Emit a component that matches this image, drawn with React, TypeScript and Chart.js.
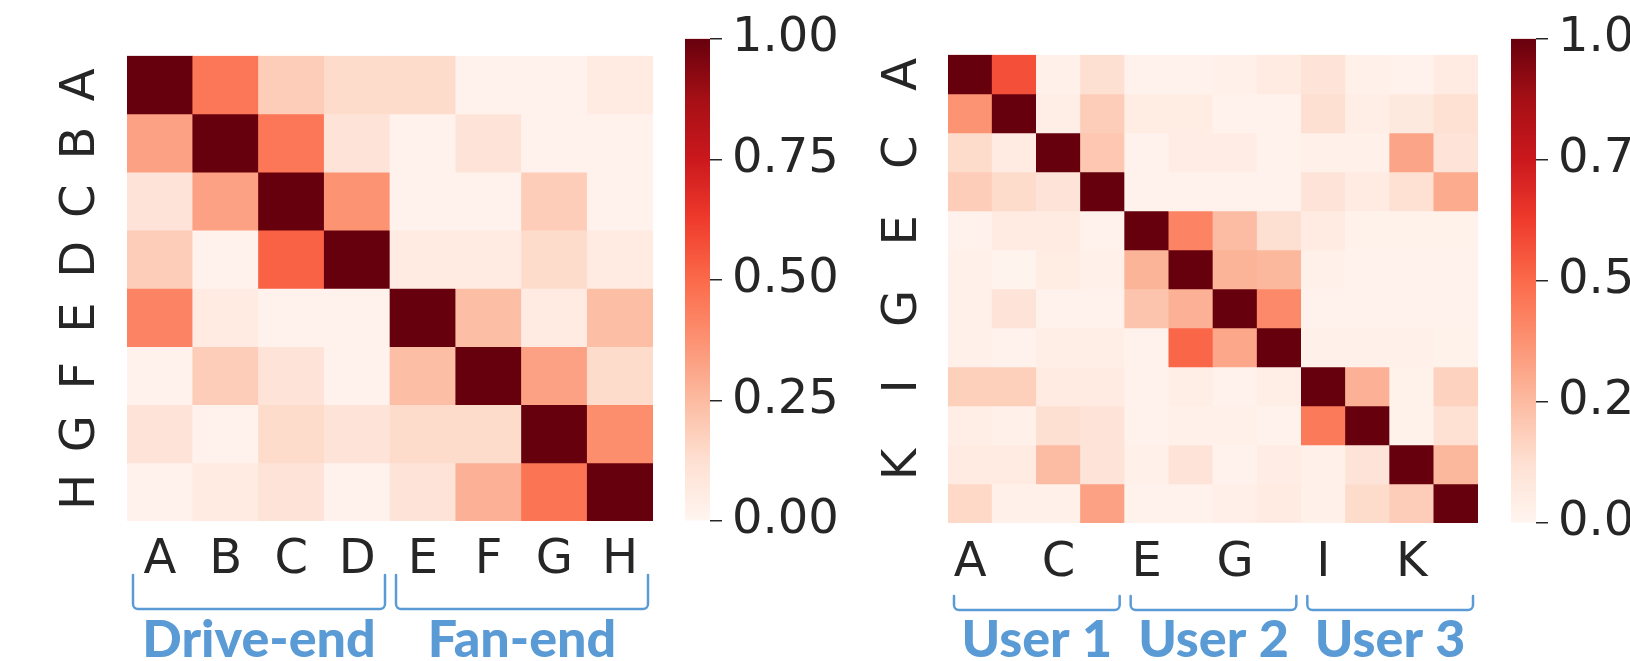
import React, { useEffect, useRef } from 'react';
import { Chart, registerables } from 'chart.js';

Chart.register(...registerables);

// ---------------- data ----------------
const bearingLabels = ['A', 'B', 'C', 'D', 'E', 'F', 'G', 'H'];
const bearingGroups = ['Drive-end', 'Fan-end'];
const bearingGroupStart = [0, 4];
const bearingGroupEnd = [3, 7];
const bearingMatrix = [
  [1.0, 0.46, 0.19, 0.14, 0.14, 0.015, 0.015, 0.06],
  [0.33, 1.0, 0.46, 0.10, 0.015, 0.10, 0.015, 0.015],
  [0.10, 0.33, 1.0, 0.37, 0.015, 0.015, 0.19, 0.015],
  [0.19, 0.015, 0.52, 1.0, 0.06, 0.06, 0.14, 0.06],
  [0.42, 0.06, 0.015, 0.015, 1.0, 0.24, 0.06, 0.24],
  [0.015, 0.19, 0.10, 0.015, 0.24, 1.0, 0.33, 0.14],
  [0.10, 0.015, 0.14, 0.10, 0.14, 0.14, 1.0, 0.39],
  [0.015, 0.06, 0.10, 0.015, 0.10, 0.28, 0.47, 1.0],
];

const userLabels = ['A', 'B', 'C', 'D', 'E', 'F', 'G', 'H', 'I', 'J', 'K', 'L'];
const userGroups = ['User 1', 'User 2', 'User 3'];
const userGroupStart = [0, 4, 8];
const userGroupEnd = [3, 7, 11];
const userMatrix = [
  [1.0, 0.57, 0.03, 0.125, 0.015, 0.015, 0.03, 0.06, 0.10, 0.03, 0.015, 0.06],
  [0.37, 1.0, 0.04, 0.19, 0.05, 0.05, 0.015, 0.015, 0.125, 0.04, 0.07, 0.12],
  [0.14, 0.06, 1.0, 0.21, 0.015, 0.045, 0.045, 0.015, 0.03, 0.03, 0.32, 0.10],
  [0.19, 0.14, 0.10, 1.0, 0.015, 0.015, 0.015, 0.015, 0.10, 0.06, 0.12, 0.30],
  [0.015, 0.06, 0.06, 0.015, 1.0, 0.42, 0.245, 0.125, 0.06, 0.02, 0.02, 0.02],
  [0.03, 0.01, 0.055, 0.03, 0.27, 1.0, 0.27, 0.26, 0.03, 0.015, 0.015, 0.015],
  [0.03, 0.10, 0.015, 0.015, 0.22, 0.28, 1.0, 0.40, 0.015, 0.015, 0.015, 0.015],
  [0.03, 0.015, 0.04, 0.04, 0.015, 0.51, 0.31, 1.0, 0.03, 0.03, 0.03, 0.02],
  [0.18, 0.18, 0.06, 0.06, 0.015, 0.04, 0.015, 0.04, 1.0, 0.28, 0.02, 0.17],
  [0.04, 0.03, 0.125, 0.10, 0.015, 0.03, 0.03, 0.015, 0.45, 1.0, 0.02, 0.12],
  [0.06, 0.06, 0.245, 0.10, 0.03, 0.10, 0.015, 0.045, 0.03, 0.10, 1.0, 0.26],
  [0.15, 0.03, 0.03, 0.33, 0.015, 0.015, 0.035, 0.06, 0.03, 0.14, 0.19, 1.0],
];

const colorbarTicks = [0, 0.25, 0.5, 0.75, 1];
const redsStops = ['#fff5f0', '#fee0d2', '#fcbba1', '#fc9272', '#fb6a4a', '#ef3b2c', '#cb181d', '#a50f15', '#67000d'];

// ---------------- helpers ----------------
const TEXT = '#262626';
const BLUE = '#5b9bd5';
const tickFont = { family: 'DejaVu Sans', size: 48 };

function hexToRgb(h: string) {
  const n = parseInt(h.slice(1), 16);
  return [(n >> 16) & 255, (n >> 8) & 255, n & 255];
}
function reds(v: number) {
  const t = Math.max(0, Math.min(1, v)) * (redsStops.length - 1);
  const i = Math.min(redsStops.length - 2, Math.floor(t));
  const f = t - i;
  const a = hexToRgb(redsStops[i]);
  const b = hexToRgb(redsStops[i + 1]);
  const c = a.map((x, k) => Math.round(x + (b[k] - x) * f));
  return `rgb(${c[0]},${c[1]},${c[2]})`;
}

const bracketPlugin = {
  id: 'groupBrackets',
  afterDraw(chart: any, _args: any, opts: any) {
    const { ctx, chartArea, scales } = chart;
    const xs = scales.x;
    const half = (xs.getPixelForValue(1) - xs.getPixelForValue(0)) / 2;
    ctx.save();
    ctx.strokeStyle = BLUE;
    ctx.fillStyle = BLUE;
    ctx.lineWidth = 2.5;
    ctx.lineJoin = 'round';
    ctx.lineCap = 'round';
    opts.groups.forEach((name: string, i: number) => {
      const x0 = xs.getPixelForValue(opts.start[i]) - half + opts.insetStart;
      const x1 = xs.getPixelForValue(opts.end[i]) + half - opts.insetEnd;
      const yt = chartArea.bottom + opts.top;
      const yb = chartArea.bottom + opts.bottom;
      const r = 5;
      ctx.beginPath();
      ctx.moveTo(x0, yt);
      ctx.arcTo(x0, yb, x0 + r, yb, r);
      ctx.arcTo(x1, yb, x1, yt, r);
      ctx.lineTo(x1, yt);
      ctx.stroke();
      ctx.font = '900 52px Lato';
      ctx.textAlign = 'center';
      ctx.textBaseline = 'alphabetic';
      ctx.fillText(name, (x0 + x1) / 2, chartArea.bottom + opts.text);
    });
    ctx.restore();
  },
};

function heatmapConfig(p: any) {
  const n = p.labels.length;
  const datasets = p.matrix.map((row: number[], r: number) => ({
    data: row.map(() => [r, r + 1]),
    backgroundColor: row.map((v) => reds(v)),
    borderWidth: 0,
    barPercentage: 1,
    categoryPercentage: 1,
    grouped: false,
  }));
  return {
    type: 'bar',
    data: { labels: p.labels, datasets },
    options: {
      animation: false,
      responsive: false,
      events: [],
      layout: { padding: { left: 0, top: p.padTop, right: p.padRight, bottom: 0 } },
      plugins: {
        legend: { display: false },
        tooltip: { enabled: false },
        groupBrackets: p.brackets,
      },
      scales: {
        x: {
          type: 'category',
          offset: true,
          grid: { display: false, drawTicks: false },
          border: { display: false },
          ticks: {
            font: tickFont,
            color: TEXT,
            padding: p.xPad,
            autoSkip: false,
            maxRotation: 0,
            minRotation: 0,
            callback: (_v: any, i: number) => (i % p.step === 0 ? p.labels[i] : ''),
          },
          afterFit: (s: any) => {
            s.height = p.xAxisHeight;
          },
        },
        y: {
          type: 'linear',
          min: 0,
          max: n,
          reverse: true,
          grid: { display: false, drawTicks: false },
          border: { display: false },
          afterBuildTicks: (s: any) => {
            s.ticks = p.labels
              .map((_: string, i: number) => i)
              .filter((i: number) => i % p.step === 0)
              .map((i: number) => ({ value: i + 0.5 }));
          },
          ticks: {
            font: tickFont,
            color: TEXT,
            padding: p.yPad,
            minRotation: 90,
            maxRotation: 90,
            crossAlign: 'center',
            callback: (v: number) => p.labels[Math.floor(v)],
          },
          afterFit: (s: any) => {
            s.width = p.yAxisWidth;
          },
        },
      },
    },
    plugins: [bracketPlugin],
  };
}

function colorbarConfig(p: any) {
  return {
    type: 'bar',
    data: {
      labels: [''],
      datasets: [
        {
          data: [[0, 1]],
          borderWidth: 0,
          barPercentage: 1,
          categoryPercentage: 1,
          backgroundColor: (c: any) => {
            const { chart } = c;
            const area = chart.chartArea;
            if (!area) return redsStops[4];
            const g = chart.ctx.createLinearGradient(0, area.bottom, 0, area.top);
            redsStops.forEach((s, i) => g.addColorStop(i / (redsStops.length - 1), s));
            return g;
          },
        },
      ],
    },
    options: {
      animation: false,
      responsive: false,
      events: [],
      layout: { padding: { left: p.padLeft, top: p.padTop, right: 0, bottom: p.padBottom } },
      plugins: { legend: { display: false }, tooltip: { enabled: false } },
      scales: {
        x: { display: false, offset: true },
        y: {
          position: 'right',
          min: 0,
          max: 1,
          border: { display: false },
          grid: {
            display: true,
            drawOnChartArea: false,
            drawTicks: true,
            tickLength: 12,
            color: TEXT,
            lineWidth: 1.5,
          },
          afterBuildTicks: (s: any) => {
            s.ticks = colorbarTicks.map((v) => ({ value: v }));
          },
          ticks: {
            font: tickFont,
            color: TEXT,
            padding: 10,
            callback: (v: number) => v.toFixed(2),
          },
          afterFit: (s: any) => {
            s.width = p.axisWidth;
          },
        },
      },
    },
  };
}

function ChartCanvas(props: { make: () => any; left: number; top: number; width: number; height: number }) {
  const ref = useRef<HTMLCanvasElement>(null);
  useEffect(() => {
    const chart = new Chart(ref.current as HTMLCanvasElement, props.make());
    return () => chart.destroy();
  }, []);
  return (
    <canvas
      ref={ref}
      width={props.width}
      height={props.height}
      style={{ position: 'absolute', left: props.left, top: props.top, width: props.width, height: props.height }}
    />
  );
}

export default function App() {
  return (
    <div style={{ position: 'fixed', left: 0, top: 0, width: 1630, height: 661, background: '#fff', overflow: 'hidden' }}>
      <ChartCanvas
        left={0}
        top={0}
        width={680}
        height={661}
        make={() =>
          heatmapConfig({
            labels: bearingLabels,
            matrix: bearingMatrix,
            step: 1,
            padTop: 33,
            padRight: 27,
            yAxisWidth: 127,
            xAxisHeight: 140,
            xPad: 11,
            yPad: 27,
            brackets: {
              groups: bearingGroups,
              start: bearingGroupStart,
              end: bearingGroupEnd,
              insetStart: 6,
              insetEnd: 5,
              top: 54,
              bottom: 88,
              text: 136,
            },
          })
        }
      />
      <ChartCanvas
        left={660}
        top={0}
        width={190}
        height={661}
        make={() => colorbarConfig({ padLeft: 25, padTop: 33, padBottom: 140, axisWidth: 140 })}
      />
      <ChartCanvas
        left={840}
        top={0}
        width={660}
        height={661}
        make={() =>
          heatmapConfig({
            labels: userLabels,
            matrix: userMatrix,
            step: 2,
            padTop: 31,
            padRight: 22,
            yAxisWidth: 108,
            xAxisHeight: 138,
            xPad: 12,
            yPad: 26,
            brackets: {
              groups: userGroups,
              start: userGroupStart,
              end: userGroupEnd,
              insetStart: 6,
              insetEnd: 5,
              top: 73,
              bottom: 87,
              text: 134,
            },
          })
        }
      />
      <ChartCanvas
        left={1490}
        top={0}
        width={140}
        height={661}
        make={() => colorbarConfig({ padLeft: 21, padTop: 31, padBottom: 138, axisWidth: 94 })}
      />
    </div>
  );
}
